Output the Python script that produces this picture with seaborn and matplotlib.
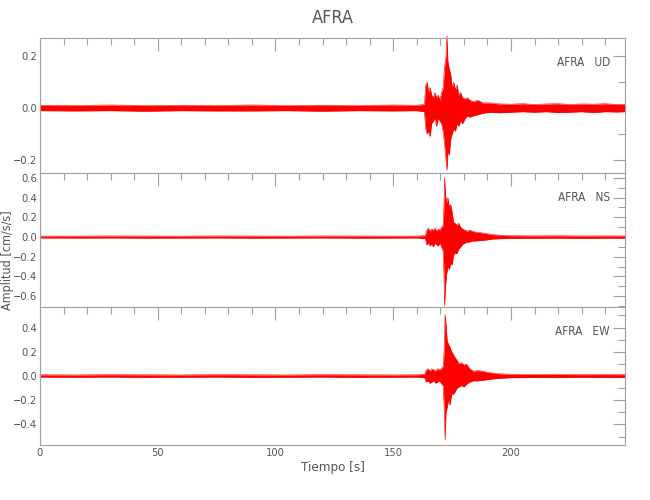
import matplotlib
matplotlib.use("Agg")
import matplotlib.pyplot as plt
import seaborn as sns
import pandas as pd
from matplotlib.ticker import MultipleLocator, FuncFormatter

# envelope of each trace (time [s], upper, lower)
t_ud = [0, 15, 30, 45, 60, 75, 90, 105, 120, 135, 150, 160, 163.2, 163.8, 164.4, 165.0, 165.6,
        166.3, 167.0, 167.7, 168.4, 169.1, 169.8, 170.5, 171.2, 171.8, 172.4, 172.8, 173.2,
        173.8, 174.4, 175.0, 175.7, 176.4, 177.1, 177.8, 178.6, 179.4, 180.5, 181.5, 182.5,
        184, 186, 188, 191, 195, 200, 205, 210, 215, 220, 225, 230, 235, 240, 245, 248.4]
up_ud = [0.011, 0.010, 0.012, 0.010, 0.011, 0.010, 0.012, 0.010, 0.011, 0.010, 0.012, 0.011,
         0.014, 0.09, 0.10, 0.06, 0.08, 0.05, 0.04, 0.06, 0.04, 0.05, 0.03, 0.06, 0.08, 0.16,
         0.20, 0.28, 0.18, 0.15, 0.13, 0.08, 0.10, 0.07, 0.09, 0.05, 0.06, 0.04, 0.035, 0.04,
         0.03, 0.025, 0.03, 0.02, 0.02, 0.016, 0.015, 0.017, 0.014, 0.016, 0.017, 0.014, 0.016,
         0.015, 0.017, 0.014, 0.015]
lo_ud = [-0.010, -0.011, -0.010, -0.012, -0.010, -0.011, -0.011, -0.010, -0.012, -0.010,
         -0.011, -0.010, -0.014, -0.08, -0.10, -0.09, -0.11, -0.06, -0.05, -0.04, -0.07, -0.04,
         -0.05, -0.06, -0.09, -0.14, -0.20, -0.24, -0.17, -0.18, -0.12, -0.10, -0.08, -0.09,
         -0.06, -0.07, -0.05, -0.06, -0.04, -0.03, -0.035, -0.03, -0.025, -0.02, -0.016, -0.018,
         -0.016, -0.014, -0.016, -0.014, -0.017, -0.016, -0.014, -0.017, -0.014, -0.015, -0.014]

t_ns = [0, 15, 30, 45, 60, 75, 90, 105, 120, 135, 150, 160, 163.6, 164.2, 164.9, 165.6, 166.3,
        167.0, 167.7, 168.4, 169.1, 169.8, 170.5, 171.2, 171.5, 171.8, 172.2, 172.7, 173.2,
        173.8, 174.4, 175.0, 175.6, 176.3, 177.0, 177.8, 178.6, 179.6, 180.5, 181.5, 182.5,
        183.5, 185, 187, 189.5, 192, 196, 200, 210, 220, 230, 240, 248.4]
up_ns = [0.010, 0.009, 0.011, 0.010, 0.009, 0.011, 0.010, 0.009, 0.011, 0.010, 0.009, 0.010,
         0.015, 0.07, 0.09, 0.06, 0.08, 0.07, 0.09, 0.06, 0.08, 0.07, 0.10, 0.12, 0.30, 0.60,
         0.42, 0.35, 0.40, 0.30, 0.33, 0.25, 0.15, 0.14, 0.12, 0.14, 0.10, 0.08, 0.07, 0.06,
         0.07, 0.06, 0.05, 0.045, 0.035, 0.025, 0.018, 0.014, 0.012, 0.013, 0.011, 0.012, 0.011]
lo_ns = [-0.009, -0.010, -0.009, -0.011, -0.010, -0.009, -0.011, -0.010, -0.009, -0.011,
         -0.010, -0.009, -0.015, -0.08, -0.06, -0.09, -0.07, -0.10, -0.06, -0.08, -0.09, -0.06,
         -0.10, -0.14, -0.35, -0.70, -0.50, -0.37, -0.30, -0.33, -0.27, -0.28, -0.18, -0.16,
         -0.17, -0.12, -0.10, -0.07, -0.06, -0.05, -0.05, -0.04, -0.04, -0.035, -0.03, -0.02,
         -0.016, -0.013, -0.012, -0.011, -0.013, -0.011, -0.012]

t_ew = [0, 15, 30, 45, 60, 75, 90, 105, 120, 135, 150, 160, 163.3, 164.0, 164.8, 165.6, 166.4,
        167.2, 168.0, 168.8, 169.6, 170.4, 171.2, 171.6, 172.0, 172.4, 172.9, 173.5, 174.1,
        174.8, 175.5, 176.3, 177.1, 178.0, 179.0, 180.0, 181.0, 182.5, 184, 186, 188, 190,
        194, 200, 210, 220, 230, 240, 248.4]
up_ew = [0.010, 0.009, 0.011, 0.010, 0.009, 0.011, 0.010, 0.009, 0.011, 0.010, 0.009, 0.010,
         0.015, 0.05, 0.06, 0.04, 0.06, 0.05, 0.04, 0.06, 0.05, 0.06, 0.08, 0.20, 0.51, 0.43,
         0.29, 0.26, 0.24, 0.20, 0.18, 0.15, 0.13, 0.10, 0.11, 0.09, 0.10, 0.06, 0.04, 0.045,
         0.04, 0.03, 0.02, 0.014, 0.012, 0.013, 0.011, 0.012, 0.011]
lo_ew = [-0.009, -0.010, -0.009, -0.011, -0.010, -0.009, -0.011, -0.010, -0.009, -0.011,
         -0.010, -0.009, -0.015, -0.05, -0.04, -0.06, -0.05, -0.04, -0.06, -0.05, -0.04, -0.06,
         -0.08, -0.25, -0.53, -0.30, -0.26, -0.20, -0.24, -0.15, -0.15, -0.13, -0.10, -0.09,
         -0.08, -0.09, -0.07, -0.05, -0.04, -0.04, -0.035, -0.03, -0.02, -0.014, -0.012, -0.013,
         -0.011, -0.012, -0.011]

station = "AFRA"
components = ["UD", "NS", "EW"]
x_ticks = [0, 50, 100, 150, 200]

sns.set_style("white")
plt.rcParams["font.family"] = ["DejaVu Sans"]
plt.rcParams["font.stretch"] = "condensed"
plt.rcParams["font.weight"] = "light"
txt = "#555555"
frame = "#a0a0a0"

fig = plt.figure(figsize=(6.5, 5), dpi=100)
boxes = [[0.0615, 0.654, 0.9, 0.270],
         [0.0615, 0.386, 0.9, 0.268],
         [0.0615, 0.110, 0.9, 0.276]]
limits = [(-0.25, 0.27), (-0.71, 0.65), (-0.57, 0.57)]
traces = [(t_ud, up_ud, lo_ud), (t_ns, up_ns, lo_ns), (t_ew, up_ew, lo_ew)]

for i, (box, lim, (t, up, lo), comp) in enumerate(zip(boxes, limits, traces, components)):
    ax = fig.add_axes(box)
    df = pd.DataFrame({"t": t, "up": up, "lo": lo})
    ax.fill_between(df["t"], df["lo"], df["up"], color="red", linewidth=0, clip_on=False)
    sns.lineplot(data=df, x="t", y="up", ax=ax, color="red", lw=0.4, clip_on=False)
    sns.lineplot(data=df, x="t", y="lo", ax=ax, color="red", lw=0.4, clip_on=False)
    ax.set_xlim(0, 248.4)
    ax.set_ylim(*lim)
    ax.set_xlabel("")
    ax.set_ylabel("")
    ax.xaxis.set_major_locator(MultipleLocator(50))
    ax.xaxis.set_minor_locator(MultipleLocator(10))
    ax.yaxis.set_major_locator(MultipleLocator(0.2))
    ax.yaxis.set_minor_locator(MultipleLocator(0.1))
    ax.yaxis.set_major_formatter(FuncFormatter(lambda v, p: f"{v:.1f}".replace("-", "\u2212")))
    ax.tick_params(which="both", direction="in", top=True, right=True, colors=frame,
                   labelcolor=txt, labelsize=8, pad=2)
    ax.tick_params(which="major", length=9, width=0.8)
    ax.tick_params(which="minor", length=5, width=0.8)
    for s in ax.spines.values():
        s.set_color(frame)
        s.set_linewidth(0.8)
    if i < 2:
        ax.set_xticklabels([])
    else:
        ax.set_xticks(x_ticks)
        ax.set_xticklabels([str(v) for v in x_ticks])
    ax.text(0.974, 0.82, f"{station}   {comp}", transform=ax.transAxes, ha="right",
            va="center", fontsize=8.5, color=txt)

fig.text(0.5115, 0.964, station, ha="center", va="center", fontsize=13, color=txt)
fig.text(0.5115, 0.064, "Tiempo [s]", ha="center", va="center", fontsize=9.5, color=txt)
fig.text(0.012, 0.48, "Amplitud [cm/s/s]", ha="center", va="center", rotation=90,
         fontsize=9, color=txt)

fig.savefig("out.png", dpi=100, facecolor="white")
